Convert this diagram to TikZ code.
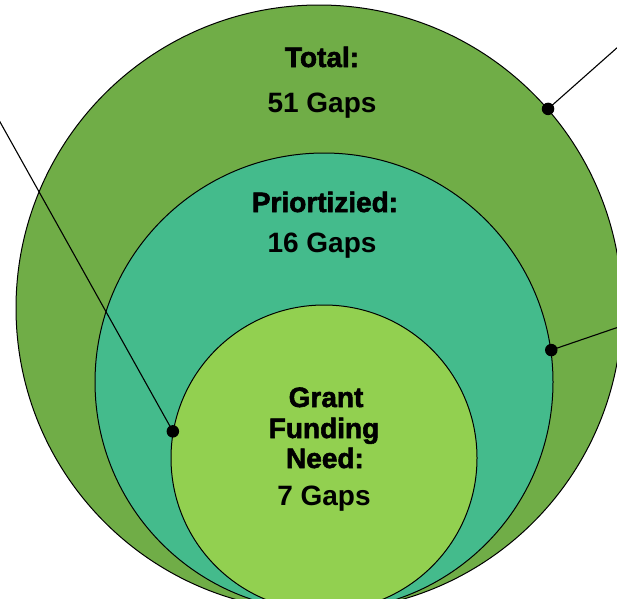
\documentclass[tikz,border=0pt]{standalone}
\usepackage{fontspec}
\setmainfont{Liberation Sans}
\newfontfamily\titlefont[BoldFeatures={FakeBold=2}]{Liberation Sans}

\definecolor{totalgreen}{HTML}{70AD47}
\definecolor{priogreen}{HTML}{44BB8C}
\definecolor{grantgreen}{HTML}{92D050}

\begin{document}
\begin{tikzpicture}[x=1pt, y=-1pt,
    ring/.style={circle, draw=black, line width=1pt, inner sep=0pt},
    leader/.style={black, line width=1.1pt},
    dotmark/.style={circle, fill=black, inner sep=0pt, minimum size=12.5pt},
    titletext/.style={font=\titlefont\fontsize{28}{30}\selectfont\bfseries, inner sep=0pt, anchor=base},
    gapstext/.style={font=\fontsize{28}{30}\selectfont\bfseries, inner sep=0pt, anchor=base}]
\useasboundingbox (0,0) rectangle (617,598);
% draw circles
    \node[ring, fill=totalgreen, minimum size=606pt] (total) at (319,308) {};
    \node[ring, fill=priogreen, minimum size=458pt] (prio) at (324,382) {};
    \node[ring, fill=grantgreen, minimum size=306pt] (grant) at (324,458) {};
    % labels
    \node[titletext] (totaltitle) at (322,67) {Total:};
    \node[gapstext] (totalgaps) at (322,112) {51 Gaps};
    \node[titletext] (priotitle) at (325,212) {Priortizied:};
    \node[gapstext] (priogaps) at (322,252) {16 Gaps};
    \node[titletext] (granttitle) at (326,407) {Grant};
    \node[titletext] (fundingtitle) at (324,438) {Funding};
    \node[titletext] (needtitle) at (325,468) {Need:};
    \node[gapstext] (grantgaps) at (324,505) {7 Gaps};
    %draw leaders
    \coordinate (totalend) at (645,23);
    \coordinate (prioend) at (645,318);
    \coordinate (grantend) at (-10,104);
    \draw[leader] (total.41) -- (totalend);
    \draw[leader] (prio.8.5) -- (prioend);
    \draw[leader] (grant.170.5) -- (grantend);
    \node[dotmark] (totaldot) at (total.41) {};
    \node[dotmark] (priodot) at (prio.8.5) {};
    \node[dotmark] (grantdot) at (grant.170.5) {};
\end{tikzpicture}
\end{document}
